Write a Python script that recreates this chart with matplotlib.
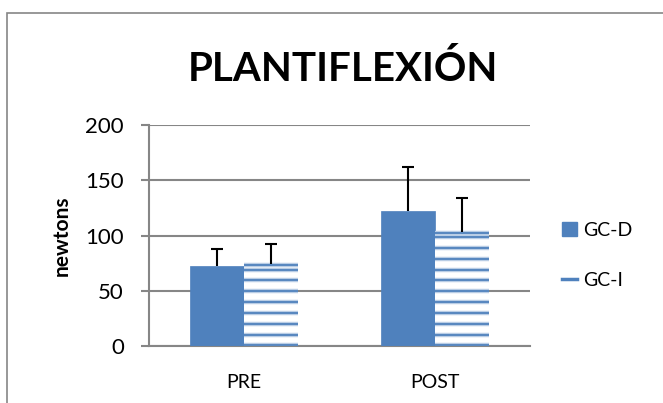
import numpy as np
import matplotlib.pyplot as plt
from matplotlib.patches import Rectangle
from matplotlib.lines import Line2D

plt.rcParams['font.family'] = ['Lato', 'DejaVu Sans']

# ----- values -----
categories = ["PRE", "POST"]
gc_d = [72, 122]
gc_d_err = [16, 40]
gc_i = [74, 103]
gc_i_err = [18, 31]
series_names = ["GC-D", "GC-I"]

blue = "#4F81BD"
light = "#B9CDE5"
grid_c = "#868686"

fig = plt.figure(figsize=(6.63, 4.03), dpi=100)
ax = fig.add_axes([0.2247, 0.1414, 0.5747, 0.5484])

x = np.arange(len(categories))
w = 0.284
bars_d = ax.bar(x - w / 2, gc_d, w, color=blue, edgecolor=blue, linewidth=0.5,
                zorder=3, label=series_names[0])
bars_i = ax.bar(x + w / 2, gc_i, w, color="white", edgecolor="none",
                zorder=3, label=series_names[1])

# horizontal stripe fill for GC-I
step = 9.8
for b in bars_i:
    h = b.get_height()
    ys = np.arange(0.5, h, step)
    ys = np.append(ys[ys < h - 2], h - 0.6)
    x0, x1 = b.get_x(), b.get_x() + b.get_width()
    ax.hlines(ys, x0, x1, colors=light, linewidth=3.2, zorder=4)
    ax.hlines(ys, x0, x1, colors=blue, linewidth=1.3, zorder=5)

# upper-only error bars
for bars, errs in [(bars_d, gc_d_err), (bars_i, gc_i_err)]:
    for b, e in zip(bars, errs):
        xc = b.get_x() + b.get_width() / 2
        h = b.get_height()
        ax.vlines(xc, h, h + e, colors="black", linewidth=1.5, zorder=6)
        ax.plot([xc], [h + e], marker="_", markersize=8, markeredgewidth=1.5,
                color="black", zorder=6)

ax.set_ylim(0, 200)
ax.set_xlim(-0.5, 1.5)
ax.set_yticks([0, 50, 100, 150, 200])
ax.set_xticks(x)
ax.set_xticklabels(categories)
ax.yaxis.grid(True, color=grid_c, linewidth=1.5, zorder=0)
ax.set_axisbelow(True)
for s in ["top", "right"]:
    ax.spines[s].set_visible(False)
for s in ["left", "bottom"]:
    ax.spines[s].set_color(grid_c)
    ax.spines[s].set_linewidth(1.5)
ax.tick_params(axis="y", length=6, width=1.5, color=grid_c, labelsize=16, pad=12)
ax.tick_params(axis="x", length=0, labelsize=14, pad=20)
ax.set_ylabel("newtons", fontsize=15, fontweight="bold", labelpad=10)

fig.text(0.517, 0.828, "PLANTIFLEXIÓN", ha="center", va="center",
         fontsize=29, fontweight="bold")

# legend
handles = [Rectangle((0, 0), 1, 1, facecolor=blue, edgecolor=blue),
           Line2D([0], [0], color=blue, linewidth=2.5)]
fig.legend(handles, series_names, loc="center left",
           bbox_to_anchor=(0.848, 0.367), frameon=False, fontsize=14,
           handlelength=0.75, handleheight=0.75, handletextpad=0.35,
           labelspacing=1.7, borderpad=0, borderaxespad=0)

# outer chart frame
fig.patches.append(Rectangle((7 / 663, -0.1), 1.2, 1.1 - 13 / 403,
                             transform=fig.transFigure, fill=False,
                             edgecolor=grid_c, linewidth=1.2))

fig.savefig("out.png", dpi=100)
